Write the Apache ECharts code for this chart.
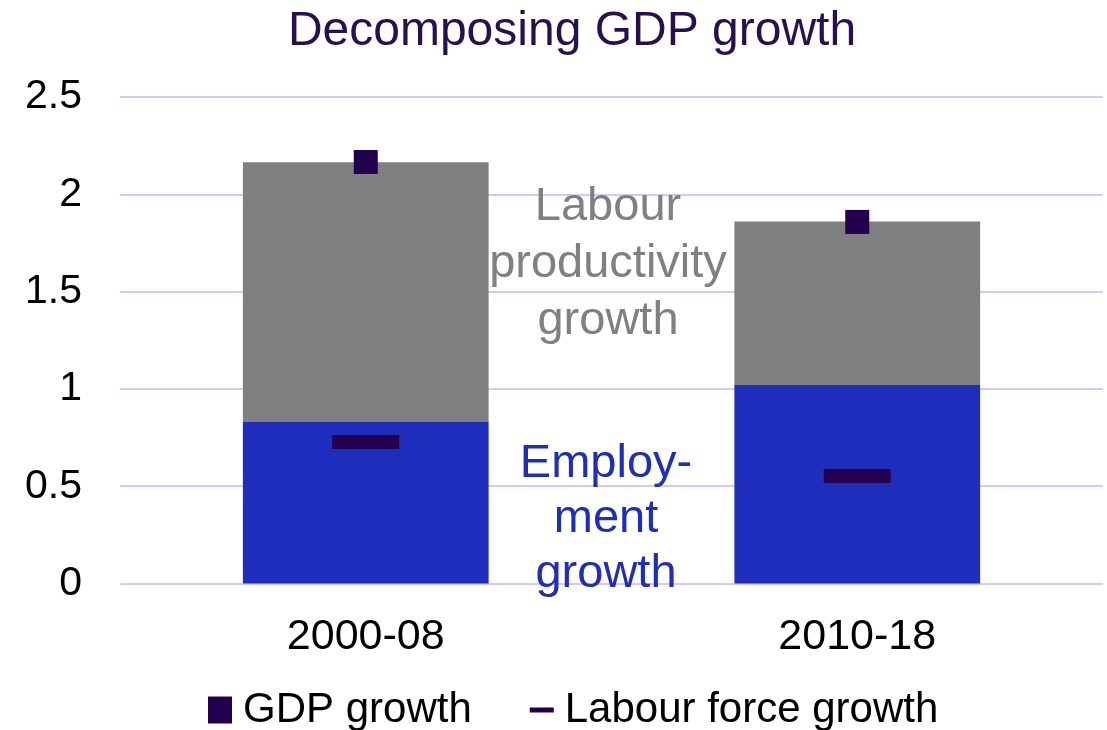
<!DOCTYPE html>
<html>
<head>
<meta charset="utf-8">
<script src="https://cdn.jsdelivr.net/npm/echarts@6/dist/echarts.min.js"></script>
<style>html,body{margin:0;padding:0;background:#fff}#c{width:1107px;height:730px}</style>
</head>
<body>
<div id="c"></div>
<script>
const categories = ['2000-08', '2010-18'];
const employmentGrowth = [0.83, 1.02];
const productivityGrowth = [1.335, 0.84];
const gdpGrowth = [2.166, 1.858];
const labourForceGrowth = [0.727, 0.552];

const FONT = '"Liberation Sans", Arial, sans-serif';
const chart = echarts.init(document.getElementById('c'));
chart.setOption({
  animation: false,
  backgroundColor: '#ffffff',
  title: {
    text: 'Decomposing GDP growth',
    left: 567, top: 3, textAlign: 'center',
    textStyle: { fontFamily: FONT, fontSize: 48, fontWeight: 'normal', color: '#26104F' }
  },
  grid: { left: 120, right: 4, top: 97, bottom: 146.5, containLabel: false },
  legend: {
    top: 684, left: 203,
    itemWidth: 24, itemHeight: 27, itemGap: 58,
    textStyle: { fontFamily: FONT, fontSize: 42, color: '#000', padding: [0, 0, 0, 6] },
    data: [
      { name: 'GDP growth', icon: 'rect', itemStyle: { color: '#22004F', opacity: 1 } },
      { name: 'Labour force growth', icon: 'path://M0,0H24V5H0Z', itemStyle: { color: '#22004F', opacity: 1 } }
    ]
  },
  xAxis: {
    type: 'category', data: categories,
    axisLine: { show: false }, axisTick: { show: false },
    axisLabel: { fontFamily: FONT, fontSize: 43, color: '#000', margin: 32 }
  },
  yAxis: {
    type: 'value', min: 0, max: 2.5, interval: 0.5,
    axisLine: { show: false }, axisTick: { show: false },
    axisLabel: { fontFamily: FONT, fontSize: 41, color: '#000', margin: 38 },
    splitLine: { lineStyle: { color: '#DCC6F7', width: 2 } }
  },
  series: [
    { name: 'Employment growth', type: 'bar', stack: 'g', data: employmentGrowth,
      barWidth: '50%', itemStyle: { color: '#1F2DBD' } },
    { name: 'Labour productivity growth', type: 'bar', stack: 'g', data: productivityGrowth,
      itemStyle: { color: '#808080' } },
    { name: 'GDP growth', type: 'scatter', data: gdpGrowth, symbol: 'rect', symbolSize: [24, 24],
      itemStyle: { color: '#22004F', opacity: 1 }, z: 5 },
    { name: 'Labour force growth', type: 'scatter', data: labourForceGrowth, symbol: 'rect', symbolSize: [67, 14],
      itemStyle: { color: '#22004F', opacity: 1 }, z: 5 }
  ],
  graphic: [
    { type: 'text', left: 608 - 120, top: 179, z: 10,
      style: { text: 'Labour\nproductivity\ngrowth', fill: '#808080', font: '47px ' + FONT,
               textAlign: 'center', lineHeight: 57, x: 120, width: 240 } },
    { type: 'text', left: 606 - 120, top: 437, z: 10,
      style: { text: 'Employ-\nment\ngrowth', fill: '#1F2DBD', font: '47px ' + FONT,
               textAlign: 'center', lineHeight: 55, x: 120, width: 240 } }
  ]
});
</script>
</body>
</html>
